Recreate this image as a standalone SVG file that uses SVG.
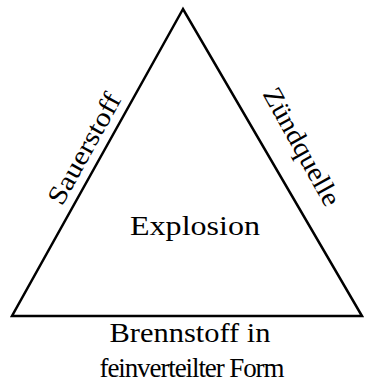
<svg xmlns="http://www.w3.org/2000/svg" width="367" height="385" viewBox="0 0 367 385">
<style>
.t{font-family:"Liberation Serif","DejaVu Serif",serif;font-size:27px;fill:#000;text-anchor:middle}
.edge{fill:none;stroke:#000;stroke-width:2.5;stroke-linejoin:miter}
</style>
<rect width="367" height="385" fill="#fff"/>
<g id="connectors">
<polygon class="edge" points="183,9 12,316 362,316"/>
</g>
<g id="sauerstoff"><text class="t" transform="translate(92,153) rotate(-60.9)" textLength="123" lengthAdjust="spacingAndGlyphs">Sauerstoff</text></g>
<g id="zuendquelle"><text class="t" transform="translate(294,151) rotate(60.9)" textLength="131" lengthAdjust="spacingAndGlyphs">Zündquelle</text></g>
<g id="explosion"><text class="t" x="195" y="235" textLength="130" lengthAdjust="spacingAndGlyphs">Explosion</text></g>
<g id="brennstoff"><text class="t" x="190" y="342" textLength="161" lengthAdjust="spacingAndGlyphs">Brennstoff in</text><text class="t" x="192" y="377" textLength="185" lengthAdjust="spacing">feinverteilter Form</text></g>
</svg>
